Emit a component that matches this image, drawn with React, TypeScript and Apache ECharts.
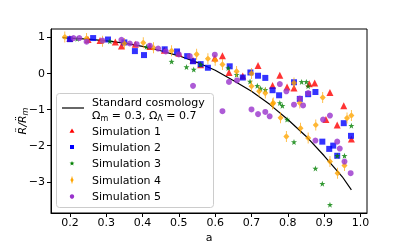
import React, { useEffect, useRef } from "react";
import * as echarts from "echarts";

const xTicks = [0.2, 0.3, 0.4, 0.5, 0.6, 0.7, 0.8, 0.9, 1.0];
const yTicks = [-3, -2, -1, 0, 1];

const curveA = [0.18, 0.2, 0.25, 0.3, 0.35, 0.4, 0.45, 0.5, 0.55, 0.6, 0.65, 0.7, 0.75, 0.8, 0.85, 0.9, 0.95, 0.975];
const curveY = [0.98, 0.97, 0.94, 0.89, 0.83, 0.74, 0.62, 0.48, 0.3, 0.08, -0.2, -0.5, -0.86, -1.28, -1.74, -2.28, -2.86, -3.22];

const sim1A = [0.2, 0.25, 0.283, 0.325, 0.342, 0.38, 0.42, 0.46, 0.5, 0.539, 0.56, 0.599, 0.62, 0.638, 0.676, 0.718, 0.758, 0.778, 0.798, 0.817, 0.859, 0.874, 0.905, 0.916, 0.936, 0.954, 0.975];
const sim1Y = [0.96, 0.93, 0.9, 0.86, 0.75, 0.8, 0.74, 0.63, 0.55, 0.36, 0.23, 0.42, 0.48, 0.02, -0.08, 0.21, -0.34, -0.06, -0.38, -0.41, -0.29, -0.27, -1.28, -0.53, -1.43, -0.9, -1.82];

const sim2A = [0.2, 0.264, 0.305, 0.35, 0.379, 0.404, 0.461, 0.495, 0.523, 0.539, 0.56, 0.58, 0.64, 0.676, 0.697, 0.718, 0.738, 0.758, 0.776, 0.817, 0.833, 0.856, 0.876, 0.895, 0.914, 0.925, 0.936, 0.954, 0.974];
const sim2Y = [0.94, 0.97, 0.93, 0.85, 0.61, 0.5, 0.66, 0.6, 0.47, 0.33, 0.25, 0.15, 0.19, -0.12, 0.02, -0.07, -0.13, -0.47, -0.61, -0.25, -0.71, -0.58, -0.52, -1.89, -2.09, -2.0, -2.28, -1.38, -1.73];

const sim3A = [0.22, 0.31, 0.411, 0.48, 0.521, 0.541, 0.56, 0.636, 0.659, 0.696, 0.716, 0.725, 0.738, 0.778, 0.785, 0.798, 0.817, 0.838, 0.851, 0.856, 0.876, 0.895, 0.916, 0.936, 0.956, 0.975];
const sim3Y = [0.95, 0.88, 0.73, 0.32, 0.17, 0.1, 0.24, 0.14, -0.04, -0.23, -0.35, -0.42, -0.46, -0.82, -0.9, -1.28, -1.9, -0.24, -0.24, -0.36, -2.63, -3.05, -3.63, -2.28, -2.28, -1.45];

const sim4A = [0.186, 0.246, 0.29, 0.35, 0.402, 0.43, 0.48, 0.549, 0.58, 0.6, 0.62, 0.659, 0.7, 0.7, 0.721, 0.738, 0.76, 0.758, 0.78, 0.796, 0.817, 0.835, 0.833, 0.856, 0.877, 0.896, 0.916, 0.937, 0.956, 0.963, 0.975];
const sim4Y = [1.0, 0.96, 0.88, 0.82, 0.84, 0.7, 0.62, 0.52, 0.4, 0.36, 0.24, 0.05, -0.01, -0.36, -0.5, -0.55, -0.82, -0.85, -1.23, -1.75, -0.27, -1.52, -0.82, -1.79, -1.43, -0.67, -2.44, -2.76, -2.55, -1.24, -1.17];

const sim5A = [0.21, 0.226, 0.246, 0.29, 0.342, 0.365, 0.384, 0.42, 0.443, 0.464, 0.5, 0.53, 0.539, 0.599, 0.62, 0.638, 0.66, 0.7, 0.718, 0.738, 0.75, 0.778, 0.796, 0.817, 0.833, 0.842, 0.856, 0.876, 0.897, 0.916, 0.936, 0.943, 0.956, 0.973];
const sim5Y = [0.97, 0.97, 0.87, 0.9, 0.92, 0.82, 0.8, 0.76, 0.68, 0.6, 0.52, 0.47, -0.35, 0.51, -1.05, -0.24, -0.2, -1.0, -1.13, -1.07, -1.19, -0.3, -0.5, -0.87, -0.7, -0.89, -0.55, -1.86, -1.28, -1.17, -1.89, -2.08, -2.44, -2.76];

const zip = (a: number[], b: number[]) => a.map((v, i) => [v, b[i]]);

const FONT = "DejaVu Sans";
const STAR = "path://M0,-10L2.35,-3.24L9.51,-3.09L3.8,1.24L5.88,8.09L0,4L-5.88,8.09L-3.8,1.24L-9.51,-3.09L-2.35,-3.24Z";
const DIAMOND = "path://M-0.5,-10L0.5,-10L0.5,10L-0.5,10Z M0,-6L3.5,0L0,6L-3.5,0Z";

const fmt = (v: number) => (v < 0 ? "\u2212" + Math.abs(v) : String(v));

function starPoints(cx: number, cy: number, r: number): number[][] {
  const pts: number[][] = [];
  for (let i = 0; i < 10; i++) {
    const rr = i % 2 === 0 ? r : r * 0.42;
    const ang = -Math.PI / 2 + (i * Math.PI) / 5;
    pts.push([cx + rr * Math.cos(ang), cy + rr * Math.sin(ang)]);
  }
  return pts;
}

export default function App() {
  const ref = useRef<HTMLDivElement>(null);
  useEffect(() => {
    if (!ref.current) return;
    const chart = echarts.init(ref.current, null, { renderer: "svg" });
    const textStyle = { fontFamily: FONT, fontSize: 11, fill: "#000" };
    const lx = 72;
    const tx = 92;
    chart.setOption({
      animation: false,
      grid: { left: 51, right: 40, top: 29, bottom: 31, show: true, borderColor: "#000", borderWidth: 1 },
      xAxis: {
        type: "value",
        min: 0.148,
        max: 1.018,
        splitLine: { show: false },
        axisLine: { show: true, onZero: false, lineStyle: { color: "#000" } },
        axisTick: { show: true, length: 4, lineStyle: { color: "#000" }, customValues: xTicks },
        axisLabel: { color: "#000", fontFamily: FONT, fontSize: 11, margin: 4, customValues: xTicks, formatter: (v: number) => v.toFixed(1) },
      },
      yAxis: {
        type: "value",
        min: -3.86,
        max: 1.22,
        splitLine: { show: false },
        axisLine: { show: true, onZero: false, lineStyle: { color: "#000" } },
        axisTick: { show: true, length: 4, lineStyle: { color: "#000" }, customValues: yTicks },
        axisLabel: { color: "#000", fontFamily: FONT, fontSize: 11, margin: 6, customValues: yTicks, formatter: fmt },
      },
      series: [
        { type: "line", data: zip(curveA, curveY), showSymbol: false, lineStyle: { color: "#000", width: 1.2 }, z: 3 },
        { type: "scatter", data: zip(sim1A, sim1Y), symbol: "triangle", symbolSize: 7, itemStyle: { color: "#ff0000" }, z: 4 },
        { type: "scatter", data: zip(sim2A, sim2Y), symbol: "rect", symbolSize: 6, itemStyle: { color: "#0000ff" }, z: 4 },
        { type: "scatter", data: zip(sim3A, sim3Y), symbol: STAR, symbolSize: 6, itemStyle: { color: "#008000" }, z: 4 },
        { type: "scatter", data: zip(sim4A, sim4Y), symbol: DIAMOND, symbolSize: [6, 11], itemStyle: { color: "#ffa500" }, z: 4 },
        { type: "scatter", data: zip(sim5A, sim5Y), symbol: "circle", symbolSize: 6, itemStyle: { color: "#9932cc" }, z: 4 },
      ],
      graphic: [
        {
          type: "text",
          x: 22,
          y: 121,
          rotation: Math.PI / 2,
          style: {
            text: "{i|R\u0308/R\u0308}{s|m}",
            align: "center",
            verticalAlign: "middle",
            fontFamily: FONT,
            rich: {
              i: { fontFamily: FONT, fontSize: 11, fontStyle: "italic", fill: "#000", lineHeight: 14, verticalAlign: "middle" },
              s: { fontFamily: FONT, fontSize: 8, fontStyle: "italic", fill: "#000", lineHeight: 14, verticalAlign: "bottom" },
            },
          },
        },
        {
          type: "text",
          x: 209,
          y: 237,
          style: { text: "a", align: "center", verticalAlign: "middle", ...textStyle },
        },
        {
          type: "group",
          z: 100,
          children: [
            { type: "rect", shape: { x: 56.5, y: 93.5, width: 157, height: 114, r: 3 }, style: { fill: "rgba(255,255,255,0.8)", stroke: "#cccccc", lineWidth: 1 } },
            { type: "line", shape: { x1: 62, y1: 108, x2: 84, y2: 108 }, style: { stroke: "#000", lineWidth: 1.2 } },
            { type: "text", x: tx, y: 102, style: { text: "Standard cosmology", verticalAlign: "middle", ...textStyle } },
            {
              type: "text",
              x: tx,
              y: 115,
              style: {
                text: "{a|\u03A9}{s|m}{a| = 0.3, \u03A9}{s|\u039B}{a| = 0.7}",
                verticalAlign: "middle",
                fontFamily: FONT,
                rich: {
                  a: { fontFamily: FONT, fontSize: 11, fill: "#000", lineHeight: 14, verticalAlign: "middle" },
                  s: { fontFamily: FONT, fontSize: 8, fill: "#000", lineHeight: 14, verticalAlign: "bottom" },
                },
              },
            },
            { type: "polygon", shape: { points: [[lx, 128.5], [lx + 2.5, 132.8], [lx - 2.5, 132.8]] }, style: { fill: "#ff0000" } },
            { type: "text", x: tx, y: 131, style: { text: "Simulation 1", verticalAlign: "middle", ...textStyle } },
            { type: "rect", shape: { x: lx - 2, y: 145, width: 4, height: 4 }, style: { fill: "#0000ff" } },
            { type: "text", x: tx, y: 147, style: { text: "Simulation 2", verticalAlign: "middle", ...textStyle } },
            { type: "polygon", shape: { points: starPoints(lx, 163.5, 2.6) }, style: { fill: "#008000" } },
            { type: "text", x: tx, y: 163.5, style: { text: "Simulation 3", verticalAlign: "middle", ...textStyle } },
            { type: "polygon", shape: { points: [[lx, 177.5], [lx + 1.7, 180], [lx, 182.5], [lx - 1.7, 180]] }, style: { fill: "#ffa500" } },
            { type: "rect", shape: { x: lx - 0.4, y: 176.5, width: 0.8, height: 7 }, style: { fill: "#ffa500" } },
            { type: "text", x: tx, y: 180, style: { text: "Simulation 4", verticalAlign: "middle", ...textStyle } },
            { type: "circle", shape: { cx: lx, cy: 196.5, r: 2.2 }, style: { fill: "#9932cc" } },
            { type: "text", x: tx, y: 196.5, style: { text: "Simulation 5", verticalAlign: "middle", ...textStyle } },
          ],
        },
      ],
    });
    return () => chart.dispose();
  }, []);
  return <div ref={ref} style={{ position: "fixed", left: 0, top: 0, width: 407, height: 244 }} />;
}
